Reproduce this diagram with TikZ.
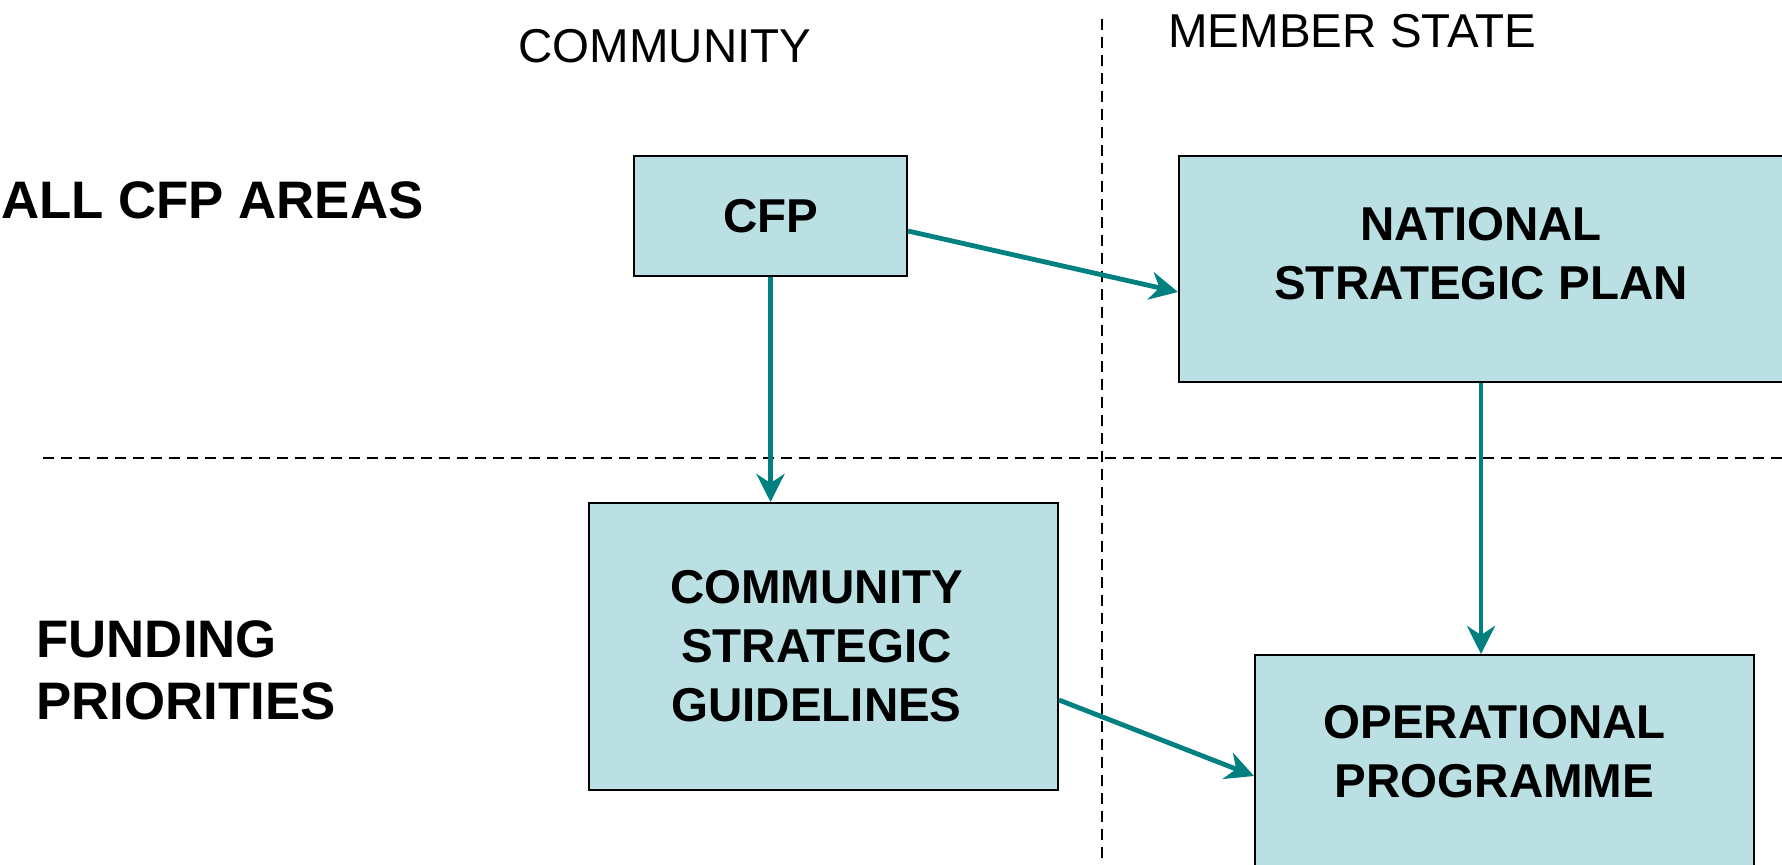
\documentclass[tikz,border=0pt]{standalone}
\usepackage{fontspec}
\setmainfont{Liberation Sans}
\usetikzlibrary{arrows.meta,calc}
\definecolor{boxfill}{HTML}{BAE0E3}
\definecolor{flowteal}{HTML}{008080}
\begin{document}
\begin{tikzpicture}[x=0.5pt, y=-0.5pt,
		box/.style={draw=black, line width=1pt, fill=boxfill, inner sep=0pt},
		boxtext/.style={align=center, font=\fontsize{23.75pt}{29.5pt}\selectfont\bfseries},
		flow/.style={draw=flowteal, line width=2.4pt, -{Stealth[length=14pt, width=14pt, inset=4.5pt]}},
		sep/.style={draw=black, line width=0.9pt, dash pattern=on 5.5pt off 3.5pt},
		head/.style={inner sep=0pt, font=\fontsize{23.75pt}{29.5pt}\selectfont},
		rowlabel/.style={inner sep=0pt, align=left, font=\fontsize{26.4pt}{31pt}\selectfont\bfseries}]
		\clip (0,0) rectangle (1782,864);
		% dividing lines
		\coordinate (vtop) at (1102,19);
		\coordinate (vbot) at (1102,864);
		\coordinate (hleft) at (43,458);
		\coordinate (hright) at (1782,458);
		\draw[sep] (vtop) -- (vbot);
		\draw[sep] (hleft) -- (hright);
		% column and row headings
		\node[head, anchor=base] (community) at (665,62) {COMMUNITY};
		\node[head, anchor=base west] (memberstate) at (1168,47) {MEMBER STATE};
		\node[rowlabel, anchor=base east] (allareas) at (424,218) {ALL CFP AREAS};
		\node[rowlabel, anchor=west] (funding) at (36,670) {FUNDING\\PRIORITIES};
		% boxes
		\node[box, boxtext, minimum width=136.5pt, minimum height=60pt] (cfp) at (770.5,216) {CFP};
		\node[box, minimum width=302pt, minimum height=113pt,
			label={[boxtext, yshift=7.5pt]center:NATIONAL\\STRATEGIC PLAN}] (nsp) at (1481,269) {};
		\node[box, minimum width=234.5pt, minimum height=143.5pt,
			label={[boxtext, xshift=-3.5pt]center:COMMUNITY\\STRATEGIC\\GUIDELINES}] (csg) at (823.5,646.5) {};
		\node[box, minimum width=249.5pt, minimum height=113pt,
			label={[boxtext, xshift=-5pt, yshift=8pt]center:OPERATIONAL\\PROGRAMME}] (op) at (1504.5,768) {};
		% arrows
		\draw[flow] (cfp.south) -- (cfp.south |- csg.north);
		\draw[flow] ($(cfp.east)+(0,15)$) -- ($(nsp.west)+(0,23)$);
		\draw[flow] (nsp.south) -- (nsp.south |- op.north);
		\draw[flow] ($(csg.east)+(0,53.5)$) -- ($(op.west)+(0,8)$);
	\end{tikzpicture}
\end{document}
